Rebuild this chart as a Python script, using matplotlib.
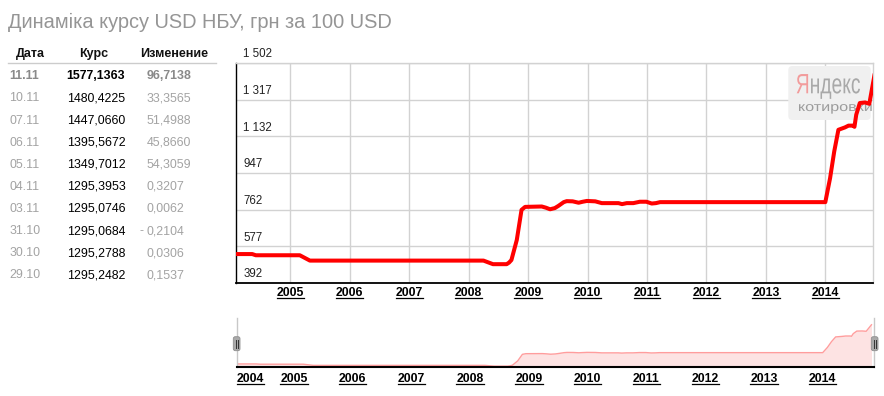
import matplotlib
matplotlib.use("Agg")
import matplotlib.pyplot as plt
from matplotlib.patches import FancyBboxPatch, PathPatch
from matplotlib.lines import Line2D
from matplotlib.textpath import TextPath
from matplotlib.font_manager import FontProperties
from matplotlib import transforms as mtrans

W, H, DPI = 884, 396, 100
plt.rcParams['font.family'] = ['Liberation Sans', 'DejaVu Sans']

# ---------------- data ----------------
title = "Динаміка курсу USD НБУ, грн за 100 USD"
table_headers = ["Дата", "Курс", "Изменение"]
table_dates = ["11.11", "10.11", "07.11", "06.11", "05.11", "04.11", "03.11", "31.10", "30.10", "29.10"]
table_rates = ["1577,1363", "1480,4225", "1447,0660", "1395,5672", "1349,7012",
               "1295,3953", "1295,0746", "1295,0684", "1295,2788", "1295,2482"]
table_changes = ["96,7138", "33,3565", "51,4988", "45,8660", "54,3059",
                 "0,3207", "0,0062", "-0,2104", "0,0306", "0,1537"]

years = [2004.03, 2004.36, 2004.42, 2005.16, 2005.33, 2008.25, 2008.33, 2008.41, 2008.64, 2008.68,
         2008.72, 2008.81, 2008.89, 2008.95, 2009.23, 2009.30, 2009.37, 2009.45, 2009.51, 2009.60,
         2009.65, 2009.75, 2009.85, 2009.92, 2009.99, 2010.13, 2010.24, 2010.52, 2010.58, 2010.66,
         2010.77, 2010.88, 2010.99, 2011.08, 2011.15, 2011.22, 2014.00, 2014.08, 2014.15, 2014.22,
         2014.33, 2014.39, 2014.47, 2014.49, 2014.52, 2014.58, 2014.67, 2014.74, 2014.83]
rate = [538, 538, 532, 532, 505, 505, 496, 487, 487, 495,
        508, 609, 761, 776, 778, 772, 764, 770, 781, 800,
        805, 804, 797, 802, 806, 804, 795, 795, 790, 795,
        795, 802, 802, 793, 795, 800, 800, 921, 1056, 1165,
        1177, 1186, 1186, 1180, 1241, 1300, 1303, 1296, 1447]

y_ticks = [392, 577, 762, 947, 1132, 1317, 1502]
year_ticks = list(range(2005, 2015))
main_xlim = (2004.087, 2014.807)
nav_xlim = (2004.028, 2014.873)
nav_ylim = (460, 1597)


def fx(px):
    return px / W


def fy(py):
    return 1 - py / H


fig = plt.figure(figsize=(W / DPI, H / DPI), dpi=DPI)
fig.patch.set_facecolor('white')

# ---------------- title ----------------
fig.text(fx(8.3), fy(28), title, fontsize=14.4, color='#959595', ha='left', va='baseline')

# ---------------- table ----------------
header_x = [30.5, 93.3, 174.5]
for hx, h in zip(header_x, table_headers):
    fig.text(fx(hx), fy(57.3), h, fontsize=9, fontweight='bold', color='#111111',
             ha='center', va='baseline')
fig.add_artist(Line2D([fx(8.3), fx(216)], [fy(63.3), fy(63.3)], color='#cccccc', lw=1.0,
                      transform=fig.transFigure))
for i, (d, r, c) in enumerate(zip(table_dates, table_rates, table_changes)):
    base = 79.3 + 22.1 * i
    bold = 'bold' if i == 0 else 'normal'
    gray = '#8a8a8a' if i == 0 else '#a3a3a3'
    fig.text(fx(9.3), fy(base), d, fontsize=8.9, fontweight=bold, color=gray, ha='left', va='baseline')
    fig.text(fx(66.7), fy(base), r, fontsize=8.9, fontweight=bold, color='#000000', ha='left', va='baseline')
    if c.startswith('-'):
        fig.text(fx(143.5), fy(base), "-", fontsize=8.9, fontweight=bold, color=gray, ha='right', va='baseline')
        c = c[1:]
    fig.text(fx(146.7), fy(base), c, fontsize=8.9, fontweight=bold, color=gray, ha='left', va='baseline')

# ---------------- main chart ----------------
ax = fig.add_axes([fx(236), fy(283), (873.3 - 236) / W, (283 - 63) / H])
ax.plot(years, rate, color='#ff0000', lw=2.9, solid_joinstyle='round', solid_capstyle='round', zorder=3)
ax.set_xlim(*main_xlim)
ax.set_ylim(y_ticks[0], y_ticks[-1])
ax.set_yticks(y_ticks)
ax.set_xticks(year_ticks)
ax.set_xticklabels([str(y) for y in year_ticks])
ax.grid(True, color='#d2d2d2', lw=1.0)
ax.set_axisbelow(True)
ax.tick_params(axis='y', length=0, labelleft=False)
ax.tick_params(axis='x', length=0, pad=2.6, labelsize=8.8, labelcolor='#000000')
for lab in ax.get_xticklabels():
    lab.set_fontweight('bold')
ax.spines['left'].set_color('#000000')
ax.spines['left'].set_linewidth(1.0)
ax.spines['bottom'].set_color('#000000')
ax.spines['bottom'].set_linewidth(1.3)
for s in ('top', 'right'):
    ax.spines[s].set_color('#d2d2d2')
    ax.spines[s].set_linewidth(1.0)

ylab_tr = mtrans.blended_transform_factory(ax.transAxes, ax.transData) + \
    mtrans.ScaledTranslation(7.3 / DPI, 5.7 / DPI, fig.dpi_scale_trans)
for v in y_ticks:
    ax.text(0, v, f"{v:,}".replace(",", " "), transform=ylab_tr, fontsize=8.3, color='#222222',
            ha='left', va='baseline', clip_on=False, zorder=4)

# watermark box (display pixel coordinates)
ident = mtrans.IdentityTransform()
box = FancyBboxPatch((788.3, H - 120), 82.4, 54, boxstyle="round,pad=0,rounding_size=4",
                     facecolor='#f0f0f0', edgecolor='none', transform=ident, zorder=1, clip_on=False)
ax.add_patch(box)
fp = FontProperties(family='Liberation Sans')
full = TextPath((0, 0), "Яндекс", size=28, prop=fp)
rest = TextPath((0, 0), "ндекс", size=28, prop=fp)
ya = TextPath((0, 0), "Я", size=28, prop=fp)
ef, er = full.get_extents(), rest.get_extents()
off = ef.x1 - er.x1
sx = 63.3 / (ef.x1 - ef.x0)
base_tr = mtrans.Affine2D().scale(sx, 1).translate(796.7, H - 93.3)
ax.add_patch(PathPatch(ya, transform=mtrans.Affine2D().translate(-ef.x0, 0) + base_tr,
                       facecolor='#f29c9c', edgecolor='none', zorder=1.5, clip_on=False))
ax.add_patch(PathPatch(rest, transform=mtrans.Affine2D().translate(off - ef.x0, 0) + base_tr,
                       facecolor='#a8a8a8', edgecolor='none', zorder=1.5, clip_on=False))
kot = TextPath((0, 0), "котировки", size=12.9, prop=fp)
ek = kot.get_extents()
sxk = 72.7 / (ek.x1 - ek.x0)
ax.add_patch(PathPatch(kot, transform=mtrans.Affine2D().translate(-ek.x0, 0).scale(sxk, 1).translate(799, H - 111),
                       facecolor='#9c9c9c', edgecolor='none', zorder=1.5, clip_on=False))

# ---------------- navigator ----------------
nav = fig.add_axes([fx(236.7), fy(367.3), (874 - 236.7) / W, (367.3 - 318.3) / H])
nav.fill_between(years, rate, nav_ylim[0] - 100, color='#fde3e3', lw=0)
nav.plot(years, rate, color='#ff9d9d', lw=1.0)
nav.set_xlim(*nav_xlim)
nav.set_ylim(*nav_ylim)
nav.set_yticks([])
nav.set_xticks([nav_xlim[0]] + year_ticks)
nav.set_xticklabels(["2004"] + [str(y) for y in year_ticks])
nav.tick_params(axis='x', length=0, pad=4.0, labelsize=8.8, labelcolor='#000000')
for lab in nav.get_xticklabels():
    lab.set_fontweight('bold')
nav.get_xticklabels()[0].set_horizontalalignment('left')
nav.spines['top'].set_visible(False)
for s in ('left', 'right'):
    nav.spines[s].set_color('#c8c8c8')
    nav.spines[s].set_linewidth(1.0)
nav.spines['bottom'].set_color('#000000')
nav.spines['bottom'].set_linewidth(1.5)

# navigator handles
for hx in (233.3, 871.3):
    nav.add_patch(FancyBboxPatch((hx, H - 350.7), 6.7, 14, boxstyle="round,pad=0,rounding_size=2",
                                 facecolor='#a9a9a9', edgecolor='#8f8f8f', lw=0.6,
                                 transform=ident, zorder=5, clip_on=False))
    for dx in (2.4, 4.3):
        nav.add_artist(Line2D([hx + dx, hx + dx], [H - 347.5, H - 340], color='#333333', lw=0.7,
                              transform=ident, zorder=6, clip_on=False))

# ---------------- underline year labels ----------------
fig.canvas.draw()
renderer = fig.canvas.get_renderer()
for a in (ax, nav):
    for lab in a.get_xticklabels():
        if not lab.get_visible() or not lab.get_text():
            continue
        bb = lab.get_window_extent(renderer)
        yy = bb.y0 + 1.0
        fig.add_artist(Line2D([bb.x0, bb.x1], [yy, yy], transform=ident, color='#000000', lw=0.9))

fig.savefig("out.png", dpi=DPI, facecolor='white')
